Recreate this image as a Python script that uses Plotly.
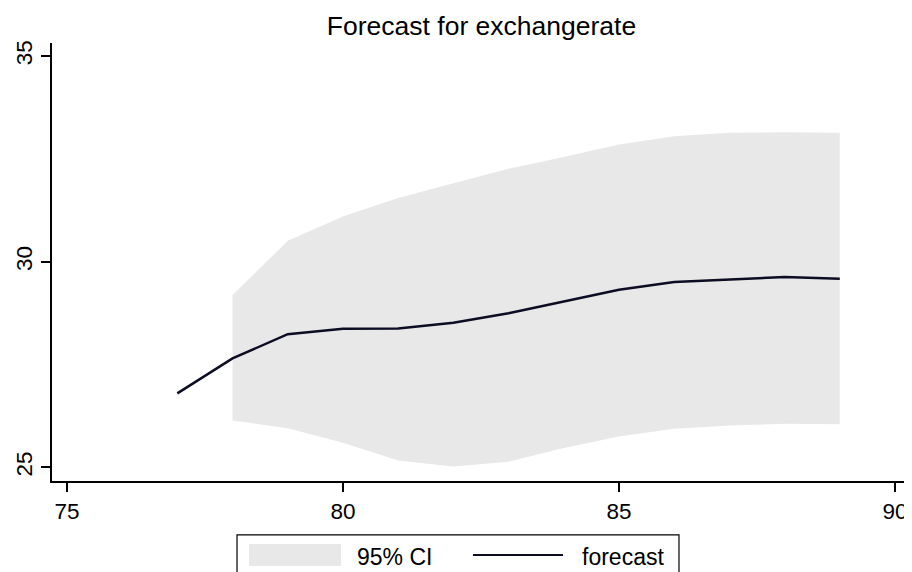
import plotly.graph_objects as go

# Data
periods = [77, 78, 79, 80, 81, 82, 83, 84, 85, 86, 87, 88, 89]
forecast = [26.80, 27.65, 28.24, 28.37, 28.38, 28.52, 28.75, 29.04, 29.32, 29.51, 29.57, 29.63, 29.59]

ci_periods = [78, 79, 80, 81, 82, 83, 84, 85, 86, 87, 88, 89]
ci_upper = [29.19, 30.51, 31.10, 31.55, 31.91, 32.26, 32.55, 32.85, 33.05, 33.14, 33.15, 33.14]
ci_lower = [26.14, 25.95, 25.60, 25.17, 25.02, 25.14, 25.47, 25.75, 25.94, 26.02, 26.06, 26.05]

x_ticks = [75, 80, 85, 90]
y_ticks = [25, 30, 35]

title_text = "Forecast for exchangerate"
legend_labels = ["95% CI", "forecast"]

FONT = "Liberation Sans, Arial, sans-serif"
CI_COLOR = "#e8e8e8"
LINE_COLOR = "#0c0c22"

fig = go.Figure()
fig.add_trace(go.Scatter(x=ci_periods, y=ci_lower, mode="lines",
                         line=dict(width=0, color=CI_COLOR), showlegend=False,
                         hoverinfo="skip"))
fig.add_trace(go.Scatter(x=ci_periods, y=ci_upper, mode="lines",
                         line=dict(width=0, color=CI_COLOR), fill="tonexty",
                         fillcolor=CI_COLOR, showlegend=False, name=legend_labels[0]))
fig.add_trace(go.Scatter(x=periods, y=forecast, mode="lines",
                         line=dict(width=2.5, color=LINE_COLOR), showlegend=False,
                         name=legend_labels[1]))

axis_common = dict(showgrid=False, zeroline=False, showline=True, linecolor="black",
                   linewidth=1.5, ticks="outside", ticklen=9, tickwidth=1.5,
                   tickcolor="black", automargin=False,
                   tickfont=dict(family=FONT, size=22.5, color="black"))

fig.update_xaxes(range=[74.73, 90.29], tickvals=x_ticks, **axis_common)
fig.update_yaxes(range=[24.67, 35.32], tickvals=y_ticks, tickangle=-90, **axis_common)

# Legend drawn as a Stata-style box below the plot
shapes = [
    dict(type="rect", xref="paper", yref="paper", x0=0.2154, x1=0.7299, y0=-0.1232, y1=-0.26,
         line=dict(color="black", width=1.2), fillcolor="white", layer="above"),
    dict(type="rect", xref="paper", yref="paper", x0=0.2293, x1=0.3364, y0=-0.1437, y1=-0.1939,
         line=dict(width=0), fillcolor=CI_COLOR, layer="above"),
    dict(type="line", xref="paper", yref="paper", x0=0.4901, x1=0.5949, y0=-0.1688, y1=-0.1688,
         line=dict(color=LINE_COLOR, width=2), layer="above"),
]
annotations = [
    dict(text=legend_labels[0], xref="paper", yref="paper", x=0.3527, y=-0.1734,
         xanchor="left", yanchor="middle", showarrow=False,
         font=dict(family=FONT, size=23, color="black")),
    dict(text=legend_labels[1], xref="paper", yref="paper", x=0.6147, y=-0.1734,
         xanchor="left", yanchor="middle", showarrow=False,
         font=dict(family=FONT, size=23, color="black")),
]

fig.update_layout(
    width=904, height=564,
    margin=dict(l=44, r=1, t=35, b=91),
    paper_bgcolor="white", plot_bgcolor="white",
    title=dict(text=title_text, x=0.5, xref="paper", y=0.968, yanchor="middle",
               font=dict(family=FONT, size=26.5, color="black")),
    shapes=shapes, annotations=annotations,
    showlegend=False,
)

fig.write_html("out.html")
